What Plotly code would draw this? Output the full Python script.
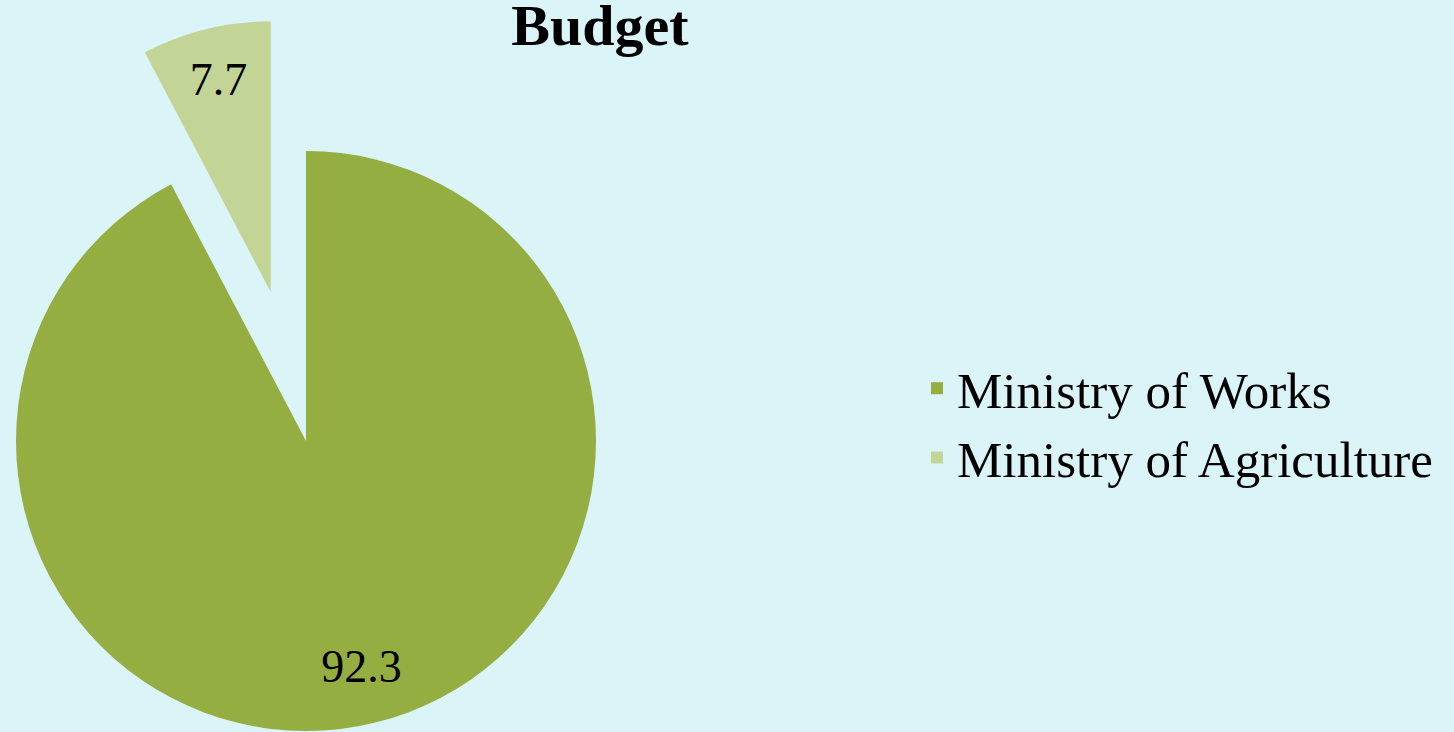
import plotly.graph_objects as go

labels = ["Ministry of Works", "Ministry of Agriculture"]
values = [92.3, 7.7]
slice_colors = ["#95AE42", "#C2D596"]
title_text = "Budget"

BG = "#DAF4F8"
CLEAR = "rgba(0,0,0,0)"
W, H = 1454, 732
FONT = "Liberation Serif"

def dom_x(cx, r):
    return [max(0.0, (cx - r) / W), min(1.0, (cx + r) / W)]

def dom_y(cy, r):
    return [max(0.0, 1 - (cy + r) / H), min(1.0, 1 - (cy - r) / H)]

common = dict(labels=labels, values=values, sort=False, direction="clockwise",
              rotation=0, insidetextorientation="horizontal", textposition="inside",
              insidetextfont=dict(family=FONT, size=46, color="#000000"))

R_MAIN, CX, CY = 290, 306, 441
HOLE = 0.6

fig = go.Figure()
# legend source (tiny, hidden underneath the main slice)
fig.add_trace(go.Pie(**common, marker=dict(colors=slice_colors),
                     domain=dict(x=dom_x(420, 6), y=dom_y(560, 6)),
                     textinfo="none", hoverinfo="skip", showlegend=True))
# main pie, outer ring (carries the value label at Excel-like radius)
fig.add_trace(go.Pie(**common, marker=dict(colors=[slice_colors[0], CLEAR]),
                     hole=HOLE,
                     domain=dict(x=dom_x(CX, R_MAIN), y=dom_y(CY, R_MAIN)),
                     texttemplate=["%{value}", ""], hoverinfo="label+value",
                     showlegend=False))
# main pie, inner part
fig.add_trace(go.Pie(**common, marker=dict(colors=[slice_colors[0], CLEAR]),
                     domain=dict(x=dom_x(CX, R_MAIN * HOLE + 1.5),
                                 y=dom_y(CY, R_MAIN * HOLE + 1.5)),
                     textinfo="none", hoverinfo="label+value", showlegend=False))
# exploded slice (Ministry of Agriculture)
fig.add_trace(go.Pie(**common, marker=dict(colors=[CLEAR, slice_colors[1]]),
                     domain=dict(x=dom_x(270.7, 270.7), y=dom_y(292, 270.7)),
                     texttemplate=["", "%{value}"], hoverinfo="label+value",
                     showlegend=False))

fig.update_layout(
    width=W, height=H,
    margin=dict(l=0, r=0, t=0, b=0),
    paper_bgcolor=BG, plot_bgcolor=BG,
    title=dict(text="<b>" + title_text + "</b>", x=600 / W, xanchor="center",
               y=0.966, yanchor="middle",
               font=dict(family=FONT, size=58, color="#000000")),
    legend=dict(x=917 / W, xanchor="left", y=1 - 423 / H, yanchor="middle",
                font=dict(family=FONT, size=51, color="#000000"),
                bgcolor="rgba(0,0,0,0)"),
    uniformtext=dict(minsize=46, mode="show"),
)

fig.write_html("out.html", config={"displayModeBar": False},
               post_script="document.body.style.margin='0';"
                           "document.body.style.overflow='hidden';")
